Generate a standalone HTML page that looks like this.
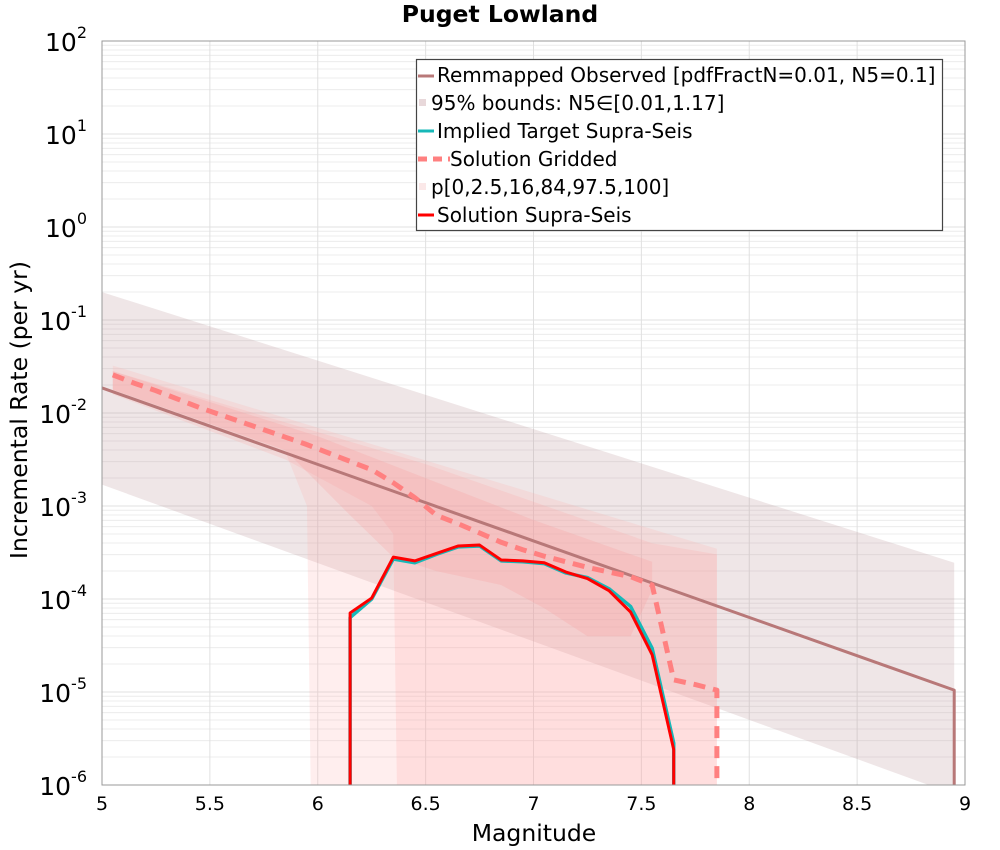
<!DOCTYPE html>
<html><head><meta charset="utf-8"><style>
html,body{margin:0;padding:0;background:#fff;}
svg{display:block;font-family:"DejaVu Sans","Liberation Sans",sans-serif;}
</style></head><body>
<svg id="chart" width="1000" height="850" viewBox="0 0 1000 850" xmlns="http://www.w3.org/2000/svg">
<text x="500" y="22" text-anchor="middle" font-size="23.5" font-weight="bold">Puget Lowland</text>
<g id="grid"></g>
<defs><clipPath id="clip"><rect x="102" y="41" width="863" height="744"/></clipPath></defs>
<g id="marks" clip-path="url(#clip)"></g>
<rect x="102" y="41" width="863" height="744" fill="none" stroke="#999" stroke-width="1"/>
<g id="axes"></g>
<text x="534" y="841" text-anchor="middle" font-size="23.5">Magnitude</text>
<text transform="translate(27,410) rotate(-90)" text-anchor="middle" font-size="23.5">Incremental Rate (per yr)</text>
<g>
<rect x="416.5" y="59.5" width="526" height="171" fill="#fff" stroke="#444" stroke-width="1.2"/>
<line x1="418" y1="76" x2="434" y2="76" stroke="#b87878" stroke-width="3"/>
<text x="437" y="82" font-size="20">Remmapped Observed [pdfFractN=0.01, N5=0.1]</text>
<rect x="419" y="99" width="7" height="7" fill="#e8d8da"/>
<text x="431" y="110" font-size="20">95% bounds: N5∈[0.01,1.17]</text>
<line x1="418" y1="131" x2="434" y2="131" stroke="#17b8b8" stroke-width="3"/>
<text x="437" y="138" font-size="20">Implied Target Supra-Seis</text>
<line x1="418" y1="159" x2="450" y2="159" stroke="#ff8080" stroke-width="5" stroke-dasharray="9,6"/>
<text x="450" y="166" font-size="20">Solution Gridded</text>
<rect x="419" y="183" width="7" height="7" fill="#fbe8e8"/>
<text x="431" y="194" font-size="20">p[0,2.5,16,84,97.5,100]</text>
<line x1="418" y1="215" x2="434" y2="215" stroke="#ff0000" stroke-width="3"/>
<text x="437" y="222" font-size="20">Solution Supra-Seis</text>
</g>
</svg>
<script>
// ---- data (log10 rates) ----
const obsMags = [5.0, 8.95, 8.95];
const obsLog = [-1.73, -4.98, -6.5];
const boundsUpperMags = [5.0, 8.95];
const boundsUpperLog = [-0.70, -3.61];
const boundsLowerMags = [8.95, 5.0];
const boundsLowerLog = [-6.1, -2.77];
const p100Mags = [5.05, 7.85];
const p100Log = [-1.49, -3.46];
const p0Mags = [7.85, 5.97, 5.95, 5.85, 5.05];
const p0Log = [-6.5, -6.5, -3.0, -2.42, -1.75];
const p975Mags = [5.05, 6.5, 7.55, 7.85];
const p975Log = [-1.55, -2.55, -3.40, -3.52];
const p25Mags = [7.85, 6.37, 6.35, 6.25, 5.85, 5.05];
const p25Log = [-6.5, -6.5, -3.3, -3.0, -2.5, -1.8];
const p84Mags = [5.05, 6.0, 6.5, 7.0, 7.55];
const p84Log = [-1.55, -2.25, -2.7, -3.15, -3.6];
const p16Mags = [7.55, 7.45, 7.25, 7.05, 6.85, 6.55, 6.35, 6.15, 5.85, 5.05];
const p16Log = [-3.9, -4.4, -4.4, -4.1, -3.85, -3.7, -3.55, -3.1, -2.4, -1.75];
const gridMags = [5.05,5.15,5.25,5.35,5.45,5.55,5.65,5.75,5.85,5.95,6.05,6.15,6.25,6.35,6.45,6.55,6.65,6.75,6.85,6.95,7.05,7.15,7.25,7.35,7.45,7.55,7.65,7.75,7.85,7.85];
const gridLog = [-1.59,-1.68,-1.76,-1.85,-1.94,-2.02,-2.10,-2.18,-2.26,-2.34,-2.43,-2.52,-2.61,-2.75,-2.91,-3.10,-3.19,-3.29,-3.39,-3.47,-3.54,-3.60,-3.66,-3.71,-3.76,-3.85,-4.87,-4.92,-4.98,-6.5];
const supraMags = [6.15,6.15,6.25,6.35,6.45,6.55,6.65,6.75,6.85,6.95,7.05,7.15,7.25,7.35,7.45,7.55,7.65,7.65];
const supraLog = [-6.5,-4.15,-3.99,-3.55,-3.59,-3.51,-3.43,-3.42,-3.58,-3.59,-3.61,-3.71,-3.78,-3.91,-4.14,-4.60,-5.62,-6.5];
const targetLog = [-6.5,-4.20,-4.00,-3.57,-3.61,-3.52,-3.44,-3.43,-3.59,-3.60,-3.62,-3.72,-3.77,-3.89,-4.08,-4.53,-5.55,-6.5];
const xTicks = ["5","5.5","6","6.5","7","7.5","8","8.5","9"];
const yTicks = [2,1,0,-1,-2,-3,-4,-5,-6];

// ---- axes ----
const X0=102,X1=965,Y0=41,Y1=785;
const sx=m=>X0+(m-5)*(X1-X0)/4;
const sy=l=>Y0+(2-l)*(Y1-Y0)/8;
const NS="http://www.w3.org/2000/svg";
function mk(tag,attrs,parent){const e=document.createElementNS(NS,tag);for(const k in attrs)e.setAttribute(k,attrs[k]);parent.appendChild(e);return e;}
const grid=document.getElementById('grid'),marks=document.getElementById('marks'),axes=document.getElementById('axes');
for(let d=-6;d<2;d++){for(let k=2;k<=9;k++){const y=sy(d+Math.log10(k));
const l=mk('line',{x1:X0,x2:X1,y1:y,y2:y,stroke:'#ececec','stroke-width':1},grid);

}}
yTicks.forEach(t=>{const y=sy(t);
const l=mk('line',{x1:X0,x2:X1,y1:y,y2:y,stroke:'#e0e0e0','stroke-width':1},grid);


const tx=mk('text',{x:87,y:y+10,'text-anchor':'end','font-size':25},axes);


tx.innerHTML='10<tspan dy="-13" font-size="16">'+t+'</tspan>';});
xTicks.forEach(t=>{const x=sx(parseFloat(t));
const l=mk('line',{x1:x,x2:x,y1:Y0,y2:Y1,stroke:'#e0e0e0','stroke-width':1},grid);


const tx=mk('text',{x:x,y:810,'text-anchor':'middle','font-size':19},axes);


tx.textContent=t;});
function pts(ms,ls){return ms.map((m,i)=>sx(m)+','+sy(ls[i])).join(' ');}
function band(um,ul,lm,ll,fill,name){
const p=mk('polygon',{points:pts(um,ul)+' '+pts(lm,ll),fill:fill},marks);

}
band(boundsUpperMags,boundsUpperLog,boundsLowerMags,boundsLowerLog,'rgba(190,150,155,0.24)','bounds-band');
band(p100Mags,p100Log,p0Mags,p0Log,'rgba(255,170,170,0.2)','band-p0-p100');
band(p975Mags,p975Log,p25Mags,p25Log,'rgba(255,160,160,0.2)','band-p2.5-p97.5');
band(p84Mags,p84Log,p16Mags,p16Log,'rgba(250,150,150,0.22)','band-p16-p84');
function line(ms,ls,stroke,w,dash,name){
const a={points:pts(ms,ls),fill:'none',stroke:stroke,'stroke-width':w,'stroke-linejoin':'round'};
if(dash)a['stroke-dasharray']=dash;
const p=mk('polyline',a,marks);

}
line(obsMags,obsLog,'#b87878',3,null,'observed-line');
line(gridMags,gridLog,'#ff8080',5,'12,8','solution-gridded-line');
line(supraMags,targetLog,'#17b8b8',3.5,null,'implied-target-line');
line(supraMags,supraLog,'#ff0000',3,null,'solution-supra-line');
</script>
</body></html>
